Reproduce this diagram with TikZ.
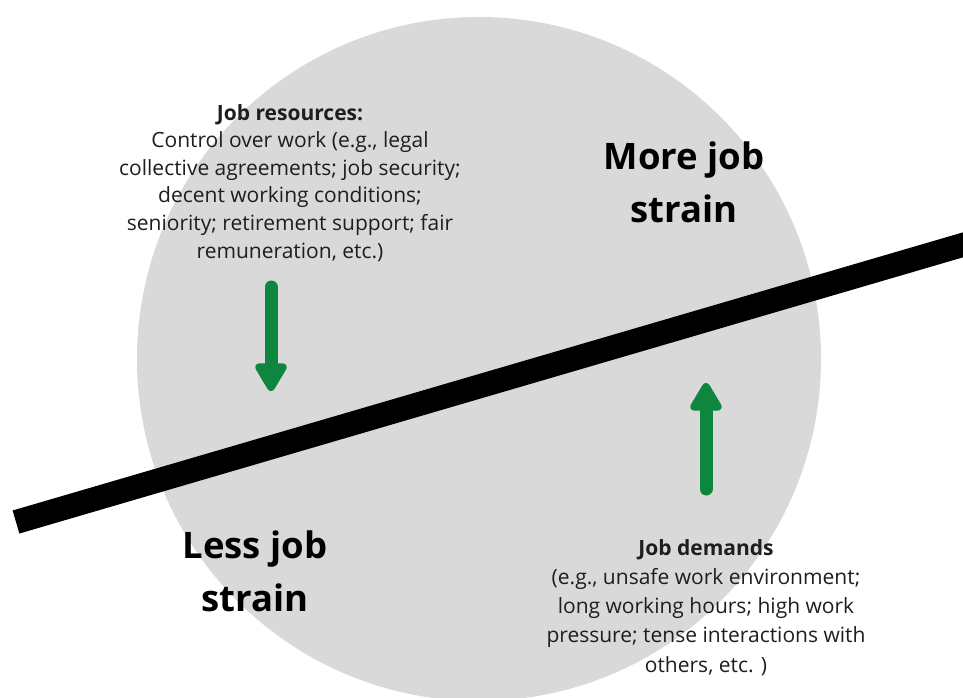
\documentclass[tikz,border=0pt]{standalone}
\usepackage{fontspec}
\setmainfont{Open Sans}
\usetikzlibrary{arrows.meta,positioning}
\definecolor{discgray}{RGB}{217,217,217}
\definecolor{arrowgreen}{RGB}{14,134,62}
\definecolor{textgray}{RGB}{30,30,30}

\tikzset{
  restext/.style={align=center, text=textgray, inner sep=0pt,
    font=\fontsize{21}{27.6}\selectfont},
  demtext/.style={align=center, text=textgray, inner sep=0pt,
    font=\fontsize{21}{29.2}\selectfont},
  bigtext/.style={align=center, text=black, inner sep=0pt,
    font=\fontsize{36.5}{53}\selectfont\bfseries},
  greenarrow/.style={draw=arrowgreen, line width=13pt, line cap=round,
    -{Triangle[width=35pt,length=32pt,round=false]}},
}

\begin{document}
\begin{tikzpicture}[x=1pt,y=-1pt]
    \useasboundingbox (0,0) rectangle (963,697);
    \clip (0,0) rectangle (963,697);
    % background disc
    \fill[discgray] (479,359) circle[radius=342];
    % the dividing bar
    \coordinate(barL) at (16,522);
    \coordinate(barR) at (1000,234);
    \draw[line width=24pt] (barL) -- (barR);
    % resources side
    \node(res) [restext, anchor=base] at (290,258) {{\bfseries Job resources:}\\
      Control over work (e.g., legal\\
      collective agreements; job security;\\
      decent working conditions;\\
      seniority; retirement support; fair\\
      remuneration, etc.)};
    \coordinate(resTop) at (271,287);
    \coordinate(resTip) at (271,391);
    \draw[greenarrow] (resTop) -- (resTip);
    % demands side
    \node(dem) [demtext, anchor=base] at (706,672) {{\bfseries Job demands}\\
      (e.g., unsafe work environment;\\
      long working hours; high work\\
      pressure; tense interactions with\\
      others, etc. )};
    \coordinate(demTop) at (706,383);
    \coordinate(demBot) at (706,489);
    \draw[greenarrow] (demBot) -- (demTop);
    % strain labels
    \node(more) [bigtext, anchor=base] at (684,222) {More job\\strain};
    \node(less) [bigtext, anchor=base] at (255,611) {Less job\\strain};
  \end{tikzpicture}
\end{document}
